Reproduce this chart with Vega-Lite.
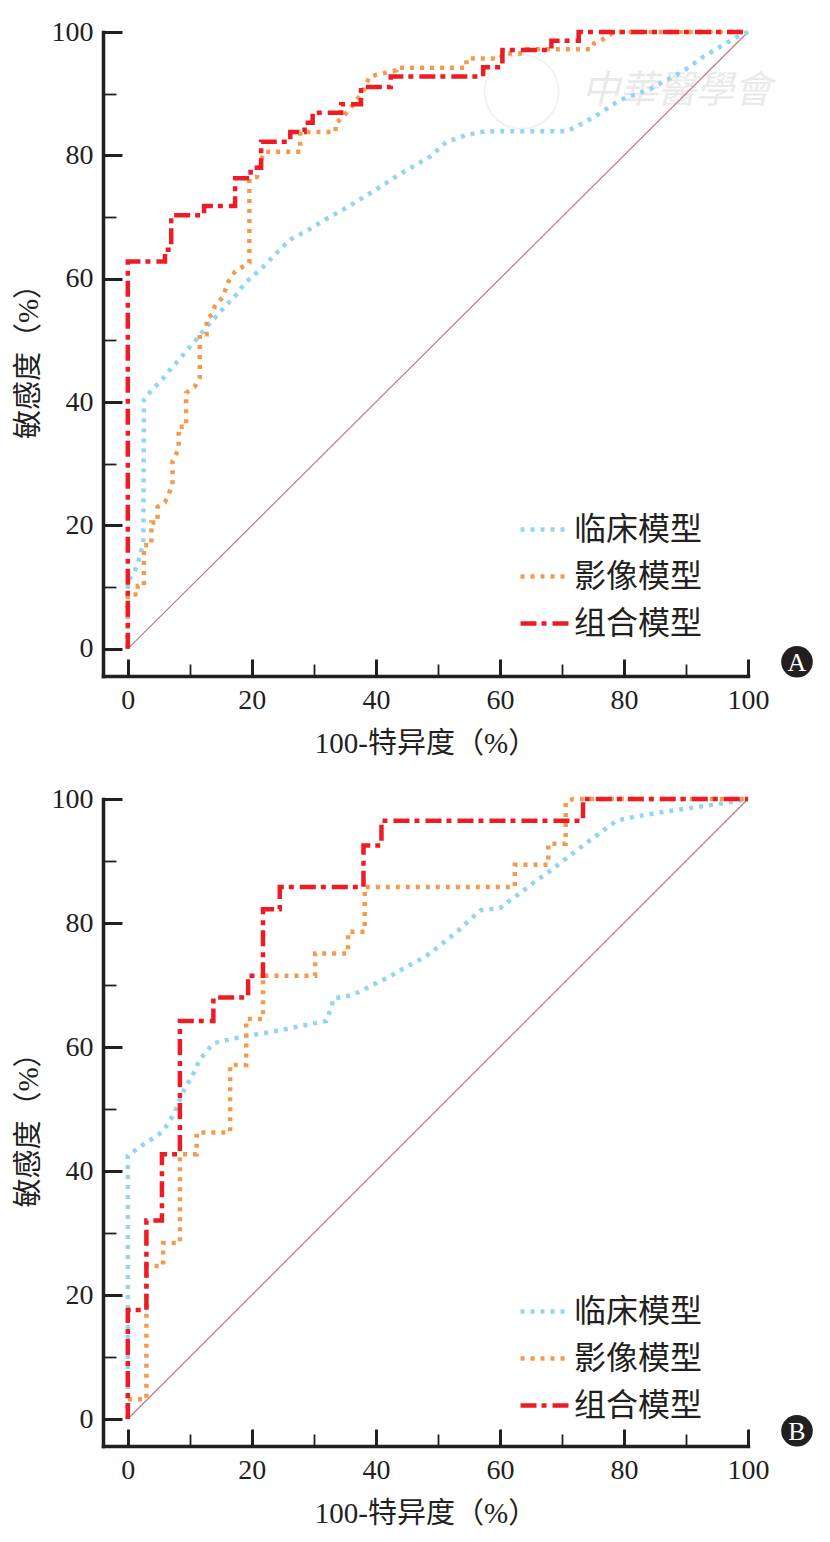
{
  "$schema": "https://vega.github.io/schema/vega-lite/v6.json",
  "padding": {"left": 14, "top": 18, "right": 5, "bottom": 5},
  "spacing": 27,
  "config": {
    "view": {"stroke": null},
    "font": "Liberation Serif"
  },
  "datasets": {
    "roc": [
      {"p": "A", "m": "临床模型", "i": 0, "x": 0, "y": 0},
      {"p": "A", "m": "临床模型", "i": 1, "x": 0, "y": 11},
      {"p": "A", "m": "临床模型", "i": 2, "x": 1.1, "y": 12.5},
      {"p": "A", "m": "临床模型", "i": 3, "x": 1.7, "y": 14.1},
      {"p": "A", "m": "临床模型", "i": 4, "x": 2.1, "y": 15.7},
      {"p": "A", "m": "临床模型", "i": 5, "x": 2.5, "y": 17.4},
      {"p": "A", "m": "临床模型", "i": 6, "x": 2.6, "y": 40.4},
      {"p": "A", "m": "临床模型", "i": 7, "x": 3.8, "y": 41.9},
      {"p": "A", "m": "临床模型", "i": 8, "x": 4.9, "y": 43},
      {"p": "A", "m": "临床模型", "i": 9, "x": 6, "y": 44.2},
      {"p": "A", "m": "临床模型", "i": 10, "x": 7, "y": 45.5},
      {"p": "A", "m": "临床模型", "i": 11, "x": 8.2, "y": 46.8},
      {"p": "A", "m": "临床模型", "i": 12, "x": 9.3, "y": 48.1},
      {"p": "A", "m": "临床模型", "i": 13, "x": 10.4, "y": 49.4},
      {"p": "A", "m": "临床模型", "i": 14, "x": 11.5, "y": 50.7},
      {"p": "A", "m": "临床模型", "i": 15, "x": 12.5, "y": 52},
      {"p": "A", "m": "临床模型", "i": 16, "x": 13.6, "y": 53.2},
      {"p": "A", "m": "临床模型", "i": 17, "x": 14.7, "y": 54.4},
      {"p": "A", "m": "临床模型", "i": 18, "x": 15.9, "y": 55.8},
      {"p": "A", "m": "临床模型", "i": 19, "x": 17, "y": 56.8},
      {"p": "A", "m": "临床模型", "i": 20, "x": 19.1, "y": 59.5},
      {"p": "A", "m": "临床模型", "i": 21, "x": 21.6, "y": 61.7},
      {"p": "A", "m": "临床模型", "i": 22, "x": 23.9, "y": 64.1},
      {"p": "A", "m": "临床模型", "i": 23, "x": 26.1, "y": 66.3},
      {"p": "A", "m": "临床模型", "i": 24, "x": 29.1, "y": 67.9},
      {"p": "A", "m": "临床模型", "i": 25, "x": 32, "y": 69.7},
      {"p": "A", "m": "临床模型", "i": 26, "x": 34.7, "y": 71.2},
      {"p": "A", "m": "临床模型", "i": 27, "x": 37.7, "y": 73},
      {"p": "A", "m": "临床模型", "i": 28, "x": 40.4, "y": 74.7},
      {"p": "A", "m": "临床模型", "i": 29, "x": 43.3, "y": 76.6},
      {"p": "A", "m": "临床模型", "i": 30, "x": 46, "y": 78.2},
      {"p": "A", "m": "临床模型", "i": 31, "x": 48.7, "y": 79.8},
      {"p": "A", "m": "临床模型", "i": 32, "x": 51.4, "y": 82.2},
      {"p": "A", "m": "临床模型", "i": 33, "x": 54.6, "y": 83.3},
      {"p": "A", "m": "临床模型", "i": 34, "x": 57.6, "y": 83.9},
      {"p": "A", "m": "临床模型", "i": 35, "x": 70.8, "y": 83.9},
      {"p": "A", "m": "临床模型", "i": 36, "x": 72.4, "y": 84.7},
      {"p": "A", "m": "临床模型", "i": 37, "x": 75.3, "y": 86.3},
      {"p": "A", "m": "临床模型", "i": 38, "x": 79.4, "y": 89},
      {"p": "A", "m": "临床模型", "i": 39, "x": 83.9, "y": 90.6},
      {"p": "A", "m": "临床模型", "i": 40, "x": 86.9, "y": 92.2},
      {"p": "A", "m": "临床模型", "i": 41, "x": 89.8, "y": 93.8},
      {"p": "A", "m": "临床模型", "i": 42, "x": 92.8, "y": 96},
      {"p": "A", "m": "临床模型", "i": 43, "x": 95.5, "y": 97.6},
      {"p": "A", "m": "临床模型", "i": 44, "x": 98.2, "y": 99.2},
      {"p": "A", "m": "临床模型", "i": 45, "x": 100, "y": 100},
      {"p": "A", "m": "影像模型", "i": 0, "x": 0, "y": 0},
      {"p": "A", "m": "影像模型", "i": 1, "x": 0, "y": 8.8},
      {"p": "A", "m": "影像模型", "i": 2, "x": 1.6, "y": 8.8},
      {"p": "A", "m": "影像模型", "i": 3, "x": 1.6, "y": 10.2},
      {"p": "A", "m": "影像模型", "i": 4, "x": 2.6, "y": 10.2},
      {"p": "A", "m": "影像模型", "i": 5, "x": 2.6, "y": 16.8},
      {"p": "A", "m": "影像模型", "i": 6, "x": 3.8, "y": 16.8},
      {"p": "A", "m": "影像模型", "i": 7, "x": 3.8, "y": 20.5},
      {"p": "A", "m": "影像模型", "i": 8, "x": 4.8, "y": 20.5},
      {"p": "A", "m": "影像模型", "i": 9, "x": 4.8, "y": 23},
      {"p": "A", "m": "影像模型", "i": 10, "x": 6, "y": 23.8},
      {"p": "A", "m": "影像模型", "i": 11, "x": 7.2, "y": 26.5},
      {"p": "A", "m": "影像模型", "i": 12, "x": 7.2, "y": 30.5},
      {"p": "A", "m": "影像模型", "i": 13, "x": 8.2, "y": 32.4},
      {"p": "A", "m": "影像模型", "i": 14, "x": 8.2, "y": 36},
      {"p": "A", "m": "影像模型", "i": 15, "x": 9.4, "y": 36},
      {"p": "A", "m": "影像模型", "i": 16, "x": 9.4, "y": 41.5},
      {"p": "A", "m": "影像模型", "i": 17, "x": 10.8, "y": 42.5},
      {"p": "A", "m": "影像模型", "i": 18, "x": 11.6, "y": 44},
      {"p": "A", "m": "影像模型", "i": 19, "x": 11.6, "y": 51},
      {"p": "A", "m": "影像模型", "i": 20, "x": 12.7, "y": 51},
      {"p": "A", "m": "影像模型", "i": 21, "x": 12.7, "y": 53.5},
      {"p": "A", "m": "影像模型", "i": 22, "x": 13.7, "y": 54.3},
      {"p": "A", "m": "影像模型", "i": 23, "x": 14, "y": 55.5},
      {"p": "A", "m": "影像模型", "i": 24, "x": 15.3, "y": 57},
      {"p": "A", "m": "影像模型", "i": 25, "x": 16.2, "y": 59.5},
      {"p": "A", "m": "影像模型", "i": 26, "x": 17.3, "y": 61.2},
      {"p": "A", "m": "影像模型", "i": 27, "x": 19.6, "y": 62.6},
      {"p": "A", "m": "影像模型", "i": 28, "x": 19.6, "y": 76.2},
      {"p": "A", "m": "影像模型", "i": 29, "x": 20.8, "y": 76.5},
      {"p": "A", "m": "影像模型", "i": 30, "x": 21.3, "y": 79},
      {"p": "A", "m": "影像模型", "i": 31, "x": 22.1, "y": 80.6},
      {"p": "A", "m": "影像模型", "i": 32, "x": 27.8, "y": 80.6},
      {"p": "A", "m": "影像模型", "i": 33, "x": 27.8, "y": 83.8},
      {"p": "A", "m": "影像模型", "i": 34, "x": 33.5, "y": 83.8},
      {"p": "A", "m": "影像模型", "i": 35, "x": 33.5, "y": 85.2},
      {"p": "A", "m": "影像模型", "i": 36, "x": 34.5, "y": 86},
      {"p": "A", "m": "影像模型", "i": 37, "x": 36.7, "y": 88.7},
      {"p": "A", "m": "影像模型", "i": 38, "x": 37.8, "y": 90.1},
      {"p": "A", "m": "影像模型", "i": 39, "x": 39, "y": 92.8},
      {"p": "A", "m": "影像模型", "i": 40, "x": 43.3, "y": 93.8},
      {"p": "A", "m": "影像模型", "i": 41, "x": 43.3, "y": 94.2},
      {"p": "A", "m": "影像模型", "i": 42, "x": 54.6, "y": 94.2},
      {"p": "A", "m": "影像模型", "i": 43, "x": 54.6, "y": 95.7},
      {"p": "A", "m": "影像模型", "i": 44, "x": 60, "y": 95.7},
      {"p": "A", "m": "影像模型", "i": 45, "x": 60.5, "y": 96.5},
      {"p": "A", "m": "影像模型", "i": 46, "x": 63.7, "y": 96.5},
      {"p": "A", "m": "影像模型", "i": 47, "x": 64.2, "y": 97.2},
      {"p": "A", "m": "影像模型", "i": 48, "x": 74.8, "y": 97.2},
      {"p": "A", "m": "影像模型", "i": 49, "x": 75.2, "y": 98.2},
      {"p": "A", "m": "影像模型", "i": 50, "x": 76.4, "y": 98.7},
      {"p": "A", "m": "影像模型", "i": 51, "x": 77.7, "y": 99.5},
      {"p": "A", "m": "影像模型", "i": 52, "x": 78.4, "y": 100},
      {"p": "A", "m": "影像模型", "i": 53, "x": 100, "y": 100},
      {"p": "A", "m": "组合模型", "i": 0, "x": 0, "y": 0},
      {"p": "A", "m": "组合模型", "i": 1, "x": 0, "y": 62.8},
      {"p": "A", "m": "组合模型", "i": 2, "x": 6, "y": 62.8},
      {"p": "A", "m": "组合模型", "i": 3, "x": 6, "y": 64.7},
      {"p": "A", "m": "组合模型", "i": 4, "x": 7, "y": 64.7},
      {"p": "A", "m": "组合模型", "i": 5, "x": 7, "y": 70.3},
      {"p": "A", "m": "组合模型", "i": 6, "x": 12.3, "y": 70.3},
      {"p": "A", "m": "组合模型", "i": 7, "x": 12.3, "y": 71.8},
      {"p": "A", "m": "组合模型", "i": 8, "x": 17.3, "y": 71.8},
      {"p": "A", "m": "组合模型", "i": 9, "x": 17.3, "y": 76.3},
      {"p": "A", "m": "组合模型", "i": 10, "x": 19.8, "y": 76.3},
      {"p": "A", "m": "组合模型", "i": 11, "x": 19.8, "y": 78},
      {"p": "A", "m": "组合模型", "i": 12, "x": 21.5, "y": 78},
      {"p": "A", "m": "组合模型", "i": 13, "x": 21.5, "y": 82.2},
      {"p": "A", "m": "组合模型", "i": 14, "x": 26.2, "y": 82.2},
      {"p": "A", "m": "组合模型", "i": 15, "x": 26.2, "y": 83.8},
      {"p": "A", "m": "组合模型", "i": 16, "x": 28.5, "y": 83.8},
      {"p": "A", "m": "组合模型", "i": 17, "x": 28.5, "y": 85.3},
      {"p": "A", "m": "组合模型", "i": 18, "x": 29.8, "y": 85.3},
      {"p": "A", "m": "组合模型", "i": 19, "x": 29.8, "y": 86.9},
      {"p": "A", "m": "组合模型", "i": 20, "x": 34.4, "y": 86.9},
      {"p": "A", "m": "组合模型", "i": 21, "x": 34.4, "y": 88.3},
      {"p": "A", "m": "组合模型", "i": 22, "x": 37.6, "y": 88.3},
      {"p": "A", "m": "组合模型", "i": 23, "x": 37.6, "y": 91.1},
      {"p": "A", "m": "组合模型", "i": 24, "x": 42.4, "y": 91.1},
      {"p": "A", "m": "组合模型", "i": 25, "x": 42.4, "y": 92.8},
      {"p": "A", "m": "组合模型", "i": 26, "x": 57.3, "y": 92.8},
      {"p": "A", "m": "组合模型", "i": 27, "x": 57.3, "y": 94.3},
      {"p": "A", "m": "组合模型", "i": 28, "x": 60.4, "y": 94.3},
      {"p": "A", "m": "组合模型", "i": 29, "x": 60.4, "y": 97.1},
      {"p": "A", "m": "组合模型", "i": 30, "x": 68.3, "y": 97.1},
      {"p": "A", "m": "组合模型", "i": 31, "x": 68.3, "y": 98.6},
      {"p": "A", "m": "组合模型", "i": 32, "x": 72.7, "y": 98.6},
      {"p": "A", "m": "组合模型", "i": 33, "x": 72.7, "y": 100},
      {"p": "A", "m": "组合模型", "i": 34, "x": 100, "y": 100},
      {"p": "B", "m": "临床模型", "i": 0, "x": 0, "y": 0},
      {"p": "B", "m": "临床模型", "i": 1, "x": 0, "y": 42.5},
      {"p": "B", "m": "临床模型", "i": 2, "x": 1.4, "y": 43.5},
      {"p": "B", "m": "临床模型", "i": 3, "x": 2.7, "y": 44.4},
      {"p": "B", "m": "临床模型", "i": 4, "x": 4.1, "y": 45.3},
      {"p": "B", "m": "临床模型", "i": 5, "x": 5.4, "y": 46.2},
      {"p": "B", "m": "临床模型", "i": 6, "x": 6.5, "y": 47.6},
      {"p": "B", "m": "临床模型", "i": 7, "x": 7.4, "y": 49.2},
      {"p": "B", "m": "临床模型", "i": 8, "x": 8.1, "y": 50.8},
      {"p": "B", "m": "临床模型", "i": 9, "x": 9.4, "y": 53.8},
      {"p": "B", "m": "临床模型", "i": 10, "x": 10.3, "y": 55.1},
      {"p": "B", "m": "临床模型", "i": 11, "x": 11.6, "y": 58},
      {"p": "B", "m": "临床模型", "i": 12, "x": 12.8, "y": 59.4},
      {"p": "B", "m": "临床模型", "i": 13, "x": 13.8, "y": 60.6},
      {"p": "B", "m": "临床模型", "i": 14, "x": 15.4, "y": 61},
      {"p": "B", "m": "临床模型", "i": 15, "x": 18.6, "y": 61.7},
      {"p": "B", "m": "临床模型", "i": 16, "x": 21.8, "y": 62.2},
      {"p": "B", "m": "临床模型", "i": 17, "x": 25, "y": 62.8},
      {"p": "B", "m": "临床模型", "i": 18, "x": 28.5, "y": 63.5},
      {"p": "B", "m": "临床模型", "i": 19, "x": 32, "y": 64.2},
      {"p": "B", "m": "临床模型", "i": 20, "x": 32.9, "y": 66.7},
      {"p": "B", "m": "临床模型", "i": 21, "x": 33.1, "y": 67.8},
      {"p": "B", "m": "临床模型", "i": 22, "x": 36.3, "y": 68.4},
      {"p": "B", "m": "临床模型", "i": 23, "x": 39.3, "y": 69.9},
      {"p": "B", "m": "临床模型", "i": 24, "x": 42.3, "y": 71.4},
      {"p": "B", "m": "临床模型", "i": 25, "x": 45.2, "y": 73.1},
      {"p": "B", "m": "临床模型", "i": 26, "x": 47.9, "y": 74.5},
      {"p": "B", "m": "临床模型", "i": 27, "x": 50.6, "y": 76.6},
      {"p": "B", "m": "临床模型", "i": 28, "x": 53.3, "y": 78.8},
      {"p": "B", "m": "临床模型", "i": 29, "x": 55.7, "y": 81},
      {"p": "B", "m": "临床模型", "i": 30, "x": 57, "y": 82.1},
      {"p": "B", "m": "临床模型", "i": 31, "x": 60, "y": 82.4},
      {"p": "B", "m": "临床模型", "i": 32, "x": 61.3, "y": 83.4},
      {"p": "B", "m": "临床模型", "i": 33, "x": 62.7, "y": 84.4},
      {"p": "B", "m": "临床模型", "i": 34, "x": 65.4, "y": 86.5},
      {"p": "B", "m": "临床模型", "i": 35, "x": 68.1, "y": 88.4},
      {"p": "B", "m": "临床模型", "i": 36, "x": 70.8, "y": 90.5},
      {"p": "B", "m": "临床模型", "i": 37, "x": 73.4, "y": 92.5},
      {"p": "B", "m": "临床模型", "i": 38, "x": 76.1, "y": 94.5},
      {"p": "B", "m": "临床模型", "i": 39, "x": 78.8, "y": 96.5},
      {"p": "B", "m": "临床模型", "i": 40, "x": 82, "y": 97.2},
      {"p": "B", "m": "临床模型", "i": 41, "x": 86.9, "y": 98},
      {"p": "B", "m": "临床模型", "i": 42, "x": 91.7, "y": 98.7},
      {"p": "B", "m": "临床模型", "i": 43, "x": 96.6, "y": 99.4},
      {"p": "B", "m": "临床模型", "i": 44, "x": 100, "y": 100},
      {"p": "B", "m": "影像模型", "i": 0, "x": 0, "y": 0},
      {"p": "B", "m": "影像模型", "i": 1, "x": 0, "y": 3.2},
      {"p": "B", "m": "影像模型", "i": 2, "x": 3, "y": 3.2},
      {"p": "B", "m": "影像模型", "i": 3, "x": 3, "y": 24.7},
      {"p": "B", "m": "影像模型", "i": 4, "x": 5.7, "y": 24.7},
      {"p": "B", "m": "影像模型", "i": 5, "x": 5.7, "y": 28.4},
      {"p": "B", "m": "影像模型", "i": 6, "x": 8.4, "y": 28.4},
      {"p": "B", "m": "影像模型", "i": 7, "x": 8.4, "y": 42.7},
      {"p": "B", "m": "影像模型", "i": 8, "x": 11.1, "y": 42.7},
      {"p": "B", "m": "影像模型", "i": 9, "x": 11.1, "y": 46.2},
      {"p": "B", "m": "影像模型", "i": 10, "x": 16.5, "y": 46.2},
      {"p": "B", "m": "影像模型", "i": 11, "x": 16.5, "y": 57.1},
      {"p": "B", "m": "影像模型", "i": 12, "x": 19.1, "y": 57.1},
      {"p": "B", "m": "影像模型", "i": 13, "x": 19.1, "y": 64.5},
      {"p": "B", "m": "影像模型", "i": 14, "x": 21.8, "y": 64.5},
      {"p": "B", "m": "影像模型", "i": 15, "x": 21.8, "y": 71.5},
      {"p": "B", "m": "影像模型", "i": 16, "x": 30.2, "y": 71.5},
      {"p": "B", "m": "影像模型", "i": 17, "x": 30.2, "y": 75.1},
      {"p": "B", "m": "影像模型", "i": 18, "x": 35.5, "y": 75.1},
      {"p": "B", "m": "影像模型", "i": 19, "x": 35.5, "y": 78.6},
      {"p": "B", "m": "影像模型", "i": 20, "x": 38.2, "y": 78.6},
      {"p": "B", "m": "影像模型", "i": 21, "x": 38.2, "y": 85.8},
      {"p": "B", "m": "影像模型", "i": 22, "x": 62.4, "y": 85.8},
      {"p": "B", "m": "影像模型", "i": 23, "x": 62.4, "y": 89.4},
      {"p": "B", "m": "影像模型", "i": 24, "x": 67.8, "y": 89.4},
      {"p": "B", "m": "影像模型", "i": 25, "x": 67.8, "y": 92.8},
      {"p": "B", "m": "影像模型", "i": 26, "x": 70.6, "y": 92.8},
      {"p": "B", "m": "影像模型", "i": 27, "x": 70.6, "y": 99.6},
      {"p": "B", "m": "影像模型", "i": 28, "x": 71.8, "y": 100},
      {"p": "B", "m": "影像模型", "i": 29, "x": 100, "y": 100},
      {"p": "B", "m": "组合模型", "i": 0, "x": 0, "y": 0},
      {"p": "B", "m": "组合模型", "i": 1, "x": 0, "y": 17.6},
      {"p": "B", "m": "组合模型", "i": 2, "x": 3, "y": 17.6},
      {"p": "B", "m": "组合模型", "i": 3, "x": 3, "y": 32},
      {"p": "B", "m": "组合模型", "i": 4, "x": 5.5, "y": 32},
      {"p": "B", "m": "组合模型", "i": 5, "x": 5.5, "y": 42.7},
      {"p": "B", "m": "组合模型", "i": 6, "x": 8.4, "y": 42.7},
      {"p": "B", "m": "组合模型", "i": 7, "x": 8.4, "y": 64.2},
      {"p": "B", "m": "组合模型", "i": 8, "x": 13.8, "y": 64.2},
      {"p": "B", "m": "组合模型", "i": 9, "x": 13.8, "y": 68},
      {"p": "B", "m": "组合模型", "i": 10, "x": 19.4, "y": 68},
      {"p": "B", "m": "组合模型", "i": 11, "x": 19.4, "y": 71.5},
      {"p": "B", "m": "组合模型", "i": 12, "x": 21.8, "y": 71.5},
      {"p": "B", "m": "组合模型", "i": 13, "x": 21.8, "y": 82.2},
      {"p": "B", "m": "组合模型", "i": 14, "x": 24.5, "y": 82.2},
      {"p": "B", "m": "组合模型", "i": 15, "x": 24.5, "y": 85.8},
      {"p": "B", "m": "组合模型", "i": 16, "x": 38, "y": 85.8},
      {"p": "B", "m": "组合模型", "i": 17, "x": 38, "y": 92.5},
      {"p": "B", "m": "组合模型", "i": 18, "x": 40.9, "y": 92.5},
      {"p": "B", "m": "组合模型", "i": 19, "x": 40.9, "y": 96.5},
      {"p": "B", "m": "组合模型", "i": 20, "x": 73.4, "y": 96.5},
      {"p": "B", "m": "组合模型", "i": 21, "x": 73.4, "y": 100},
      {"p": "B", "m": "组合模型", "i": 22, "x": 100, "y": 100}
    ],
    "diag": [{"x": 0, "y": 0}, {"x": 100, "y": 100}],
    "badge": [
      {"p": "A", "x": 107.9, "y": -2.1, "t": "A"},
      {"p": "B", "x": 107.9, "y": -1.9, "t": "B"}
    ],
    "mark": [{"x": 63.5, "y": 90.3, "t": "中華醫學會", "tx": 88.5}]
  },
  "resolve": {
    "scale": {"color": "independent", "strokeDash": "independent"},
    "legend": {"color": "independent", "strokeDash": "independent"}
  },
  "vconcat": [
    {
      "width": 645,
      "height": 644,
      "layer": [
        {
          "data": {"name": "mark"},
          "mark": {"type": "circle", "size": 5500, "filled": false, "stroke": "#ececec", "strokeWidth": 2},
          "encoding": {
            "x": {"field": "x", "type": "quantitative"},
            "y": {"field": "y", "type": "quantitative"}
          }
        },
        {
          "data": {"name": "mark"},
          "mark": {"type": "text", "font": "Noto Sans CJK TC", "fontSize": 38, "fontStyle": "italic", "color": "#e9e9e9", "letterSpacing": 4},
          "encoding": {
            "x": {"field": "tx", "type": "quantitative"},
            "y": {"field": "y", "type": "quantitative"},
            "text": {"field": "t"}
          }
        },
        {
          "data": {"name": "diag"},
          "mark": {"type": "line", "color": "#b97d8c", "strokeWidth": 1.2},
          "encoding": {
            "x": {"field": "x", "type": "quantitative"},
            "y": {"field": "y", "type": "quantitative"}
          }
        },
        {
          "data": {"name": "roc"},
          "transform": [{"filter": "datum.p === 'A'"}],
          "mark": {"type": "line", "strokeWidth": 4.5, "strokeCap": "butt"},
          "encoding": {
            "x": {
              "field": "x", "type": "quantitative",
              "scale": {"domain": [-4, 100], "nice": false, "zero": false},
              "axis": {
                "values": [0, 5, 10, 15, 20, 25, 30, 35, 40, 45, 50, 55, 60, 65, 70, 75, 80, 85, 90, 95, 100],
                "labelExpr": "datum.value % 20 === 0 ? datum.label : ''",
                "title": "100-特异度（%）",
                "grid": false,
                "domainColor": "#231f20", "domainWidth": 3.5, "domainCap": "square",
                "tickColor": "#231f20",
                "tickSize": {"condition": {"test": "datum.value % 20 === 0", "value": -17}, "value": -12},
                "tickWidth": {"condition": {"test": "datum.value % 20 === 0", "value": 3}, "value": 1.8},
                "labelFont": "Liberation Serif", "labelFontSize": 28, "labelColor": "#231f20",
                "labelPadding": 27, "labelFlush": false, "labelOverlap": false, "labelBound": false,
                "titleFont": "Liberation Serif, Noto Sans CJK SC", "titleFontSize": 29,
                "titleFontWeight": "normal", "titleColor": "#231f20", "titlePadding": 10
              }
            },
            "y": {
              "field": "y", "type": "quantitative",
              "scale": {"domain": [-4.4, 100], "nice": false, "zero": false},
              "axis": {
                "values": [0, 5, 10, 15, 20, 25, 30, 35, 40, 45, 50, 55, 60, 65, 70, 75, 80, 85, 90, 95, 100],
                "labelExpr": "datum.value % 20 === 0 ? datum.label : ''",
                "title": "敏感度（%）",
                "grid": false,
                "domainColor": "#231f20", "domainWidth": 3.5, "domainCap": "square",
                "tickColor": "#231f20",
                "tickSize": {"condition": {"test": "datum.value % 20 === 0", "value": -19}, "value": -13},
                "tickWidth": {"condition": {"test": "datum.value % 20 === 0", "value": 3}, "value": 1.8},
                "labelFont": "Liberation Serif", "labelFontSize": 28, "labelColor": "#231f20",
                "labelPadding": 29, "labelFlush": false, "labelOverlap": false, "labelBound": false,
                "titleFont": "Liberation Serif, Noto Sans CJK SC", "titleFontSize": 29,
                "titleFontWeight": "normal", "titleColor": "#231f20", "titlePadding": 8
              }
            },
            "order": {"field": "i", "type": "quantitative"},
            "color": {
              "field": "m", "type": "nominal",
              "scale": {"domain": ["临床模型", "影像模型", "组合模型"], "range": ["#92d5f3", "#f59a4d", "#ed1c24"]},
              "legend": {
                "title": null, "orient": "none", "legendX": 415, "legendY": 471,
                "symbolType": "stroke", "symbolSize": 2300, "symbolStrokeWidth": 4.5,
                "labelFont": "Liberation Serif, Noto Sans CJK SC", "labelFontSize": 32, "labelColor": "#231f20",
                "labelOffset": 3, "rowPadding": 4, "padding": 0
              }
            },
            "strokeDash": {
              "field": "m", "type": "nominal",
              "scale": {"domain": ["临床模型", "影像模型", "组合模型"], "range": [[4, 6], [4, 6], [16, 5, 5, 6]]},
              "legend": {
                "title": null, "orient": "none", "legendX": 415, "legendY": 471,
                "symbolType": "stroke", "symbolSize": 2300, "symbolStrokeWidth": 4.5,
                "labelFont": "Liberation Serif, Noto Sans CJK SC", "labelFontSize": 32, "labelColor": "#231f20",
                "labelOffset": 3, "rowPadding": 4, "padding": 0
              }
            }
          }
        },
        {
          "data": {"name": "badge"},
          "transform": [{"filter": "datum.p === 'A'"}],
          "mark": {"type": "circle", "size": 1000, "color": "#231f20", "opacity": 1},
          "encoding": {
            "x": {"field": "x", "type": "quantitative"},
            "y": {"field": "y", "type": "quantitative"}
          }
        },
        {
          "data": {"name": "badge"},
          "transform": [{"filter": "datum.p === 'A'"}],
          "mark": {"type": "text", "font": "Liberation Serif", "fontSize": 26, "color": "white", "baseline": "middle", "dy": 1},
          "encoding": {
            "x": {"field": "x", "type": "quantitative"},
            "y": {"field": "y", "type": "quantitative"},
            "text": {"field": "t"}
          }
        }
      ]
    },
    {
      "width": 645,
      "height": 647,
      "layer": [
        {
          "data": {"name": "diag"},
          "mark": {"type": "line", "color": "#b97d8c", "strokeWidth": 1.2},
          "encoding": {
            "x": {"field": "x", "type": "quantitative"},
            "y": {"field": "y", "type": "quantitative"}
          }
        },
        {
          "data": {"name": "roc"},
          "transform": [{"filter": "datum.p === 'B'"}],
          "mark": {"type": "line", "strokeWidth": 4.5, "strokeCap": "butt"},
          "encoding": {
            "x": {
              "field": "x", "type": "quantitative",
              "scale": {"domain": [-4, 100], "nice": false, "zero": false},
              "axis": {
                "values": [0, 5, 10, 15, 20, 25, 30, 35, 40, 45, 50, 55, 60, 65, 70, 75, 80, 85, 90, 95, 100],
                "labelExpr": "datum.value % 20 === 0 ? datum.label : ''",
                "title": "100-特异度（%）",
                "grid": false,
                "domainColor": "#231f20", "domainWidth": 3.5, "domainCap": "square",
                "tickColor": "#231f20",
                "tickSize": {"condition": {"test": "datum.value % 20 === 0", "value": -17}, "value": -12},
                "tickWidth": {"condition": {"test": "datum.value % 20 === 0", "value": 3}, "value": 1.8},
                "labelFont": "Liberation Serif", "labelFontSize": 28, "labelColor": "#231f20",
                "labelPadding": 27, "labelFlush": false, "labelOverlap": false, "labelBound": false,
                "titleFont": "Liberation Serif, Noto Sans CJK SC", "titleFontSize": 29,
                "titleFontWeight": "normal", "titleColor": "#231f20", "titlePadding": 10
              }
            },
            "y": {
              "field": "y", "type": "quantitative",
              "scale": {"domain": [-4.35, 100], "nice": false, "zero": false},
              "axis": {
                "values": [0, 5, 10, 15, 20, 25, 30, 35, 40, 45, 50, 55, 60, 65, 70, 75, 80, 85, 90, 95, 100],
                "labelExpr": "datum.value % 20 === 0 ? datum.label : ''",
                "title": "敏感度（%）",
                "grid": false,
                "domainColor": "#231f20", "domainWidth": 3.5, "domainCap": "square",
                "tickColor": "#231f20",
                "tickSize": {"condition": {"test": "datum.value % 20 === 0", "value": -19}, "value": -13},
                "tickWidth": {"condition": {"test": "datum.value % 20 === 0", "value": 3}, "value": 1.8},
                "labelFont": "Liberation Serif", "labelFontSize": 28, "labelColor": "#231f20",
                "labelPadding": 29, "labelFlush": false, "labelOverlap": false, "labelBound": false,
                "titleFont": "Liberation Serif, Noto Sans CJK SC", "titleFontSize": 29,
                "titleFontWeight": "normal", "titleColor": "#231f20", "titlePadding": 8
              }
            },
            "order": {"field": "i", "type": "quantitative"},
            "color": {
              "field": "m", "type": "nominal",
              "scale": {"domain": ["临床模型", "影像模型", "组合模型"], "range": ["#92d5f3", "#f59a4d", "#ed1c24"]},
              "legend": {
                "title": null, "orient": "none", "legendX": 415, "legendY": 486,
                "symbolType": "stroke", "symbolSize": 2300, "symbolStrokeWidth": 4.5,
                "labelFont": "Liberation Serif, Noto Sans CJK SC", "labelFontSize": 32, "labelColor": "#231f20",
                "labelOffset": 3, "rowPadding": 4, "padding": 0
              }
            },
            "strokeDash": {
              "field": "m", "type": "nominal",
              "scale": {"domain": ["临床模型", "影像模型", "组合模型"], "range": [[4, 6], [4, 6], [16, 5, 5, 6]]},
              "legend": {
                "title": null, "orient": "none", "legendX": 415, "legendY": 486,
                "symbolType": "stroke", "symbolSize": 2300, "symbolStrokeWidth": 4.5,
                "labelFont": "Liberation Serif, Noto Sans CJK SC", "labelFontSize": 32, "labelColor": "#231f20",
                "labelOffset": 3, "rowPadding": 4, "padding": 0
              }
            }
          }
        },
        {
          "data": {"name": "badge"},
          "transform": [{"filter": "datum.p === 'B'"}],
          "mark": {"type": "circle", "size": 1000, "color": "#231f20", "opacity": 1},
          "encoding": {
            "x": {"field": "x", "type": "quantitative"},
            "y": {"field": "y", "type": "quantitative"}
          }
        },
        {
          "data": {"name": "badge"},
          "transform": [{"filter": "datum.p === 'B'"}],
          "mark": {"type": "text", "font": "Liberation Serif", "fontSize": 26, "color": "white", "baseline": "middle", "dy": 1},
          "encoding": {
            "x": {"field": "x", "type": "quantitative"},
            "y": {"field": "y", "type": "quantitative"},
            "text": {"field": "t"}
          }
        }
      ]
    }
  ]
}
